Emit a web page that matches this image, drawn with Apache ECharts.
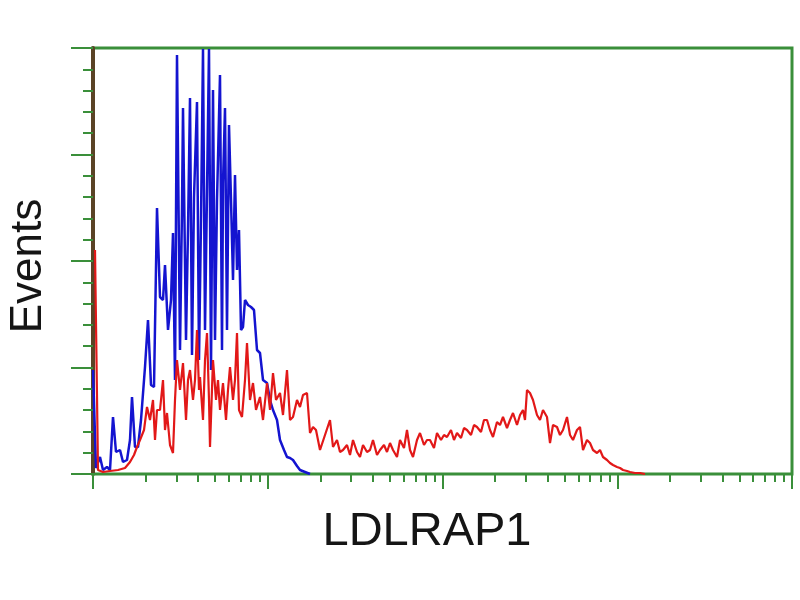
<!DOCTYPE html>
<html>
<head>
<meta charset="utf-8">
<script src="https://cdn.jsdelivr.net/npm/echarts@6/dist/echarts.min.js"></script>
<style>html,body{margin:0;padding:0;background:#fff;}#c{width:800px;height:600px;}</style>
</head>
<body>
<div id="c"></div>
<script>
// Channel (log scale, 4 decades over 0..699) vs event counts
const xTitle = 'LDLRAP1';
const yTitle = 'Events';
const decades = 4;
const channelMax = 699;
const countMax = 426;

const isotypeControl = [[0,104],[3,6],[7,17],[10,4],[14,7],[17,4],[20,57],[23,22],[27,24],[30,12],[34,14],[37,34],[39,77],[42,27],[45,27],[48,54],[52,107],[55,154],[58,89],[61,87],[64,266],[67,177],[70,174],[72,209],[75,144],[78,174],[80,241],[82,94],[84,419],[87,124],[89,266],[90,366],[93,134],[95,244],[97,376],[99,119],[101,277],[104,372],[106,114],[108,254],[110,425],[112,144],[114,282],[116,425],[118,104],[120,384],[122,134],[124,274],[127,399],[129,124],[130,291],[132,366],[134,144],[136,349],[138,274],[140,194],[142,299],[144,204],[146,244],[148,144],[150,147],[152,174],[155,169],[158,167],[161,164],[164,124],[167,121],[170,94],[174,91],[177,74],[180,64],[184,54],[187,34],[191,24],[194,17],[197,16],[200,14],[204,8],[207,4],[212,2],[217,0]];

const ldlrap1 = [[2,224],[5,4],[10,2],[17,3],[25,4],[32,6],[37,12],[41,19],[44,27],[47,34],[51,44],[54,67],[57,54],[60,74],[62,34],[64,64],[67,64],[70,94],[72,44],[74,61],[77,29],[80,21],[82,74],[84,114],[87,84],[90,111],[93,54],[95,94],[97,104],[100,74],[102,94],[104,144],[106,84],[107,97],[110,54],[112,114],[114,141],[116,74],[117,27],[120,114],[123,74],[125,94],[127,64],[130,91],[133,54],[135,84],[137,107],[140,74],[142,94],[144,141],[146,64],[149,57],[152,94],[154,131],[157,74],[160,91],[163,64],[167,77],[170,54],[174,91],[177,64],[180,101],[183,74],[187,81],[190,59],[194,104],[197,54],[200,57],[204,74],[207,67],[210,79],[214,81],[217,41],[220,47],[223,44],[227,24],[232,39],[237,54],[240,27],[244,34],[247,22],[250,24],[254,29],[257,19],[260,34],[264,22],[267,17],[270,29],[274,22],[277,24],[280,34],[284,19],[287,24],[291,29],[294,22],[297,31],[300,24],[304,17],[307,34],[311,26],[314,44],[317,24],[320,17],[324,34],[327,41],[331,29],[334,34],[337,34],[341,26],[344,41],[348,34],[351,39],[354,37],[358,44],[361,34],[364,41],[368,36],[371,46],[374,44],[378,39],[381,49],[384,47],[388,42],[391,54],[394,54],[397,44],[400,37],[404,52],[407,49],[410,57],[414,46],[417,54],[420,61],[424,49],[427,59],[430,64],[432,54],[434,84],[437,81],[440,74],[444,59],[447,54],[450,64],[454,57],[457,31],[460,49],[464,47],[467,39],[470,44],[474,57],[477,39],[480,34],[484,44],[487,47],[490,24],[494,34],[497,31],[500,24],[504,21],[507,24],[510,17],[514,14],[517,11],[520,9],[524,7],[527,6],[530,4],[534,3],[537,2],[542,1],[547,1],[552,0]];

const decadeLen = channelMax / decades;
const majorTicks = [];
const minorTicks = [];
for (let d = 0; d <= decades; d++) {
  majorTicks.push(d * decadeLen);
  if (d < decades) for (let k = 2; k <= 9; k++) minorTicks.push(d * decadeLen + Math.log10(k) * decadeLen);
}
const green = '#3a8f3a';
const chart = echarts.init(document.getElementById('c'), null, {renderer: 'canvas'});
chart.setOption({
  animation: false,
  backgroundColor: '#ffffff',
  grid: {left: 93, right: 8, top: 48, bottom: 126, show: true, borderColor: green, borderWidth: 3, backgroundColor: 'transparent'},
  xAxis: [
    {type: 'value', min: 0, max: channelMax, position: 'bottom',
     axisLine: {show: true, lineStyle: {color: green, width: 2}},
     axisTick: {show: true, customValues: majorTicks, length: 15, lineStyle: {color: green, width: 2}},
     axisLabel: {show: false}, splitLine: {show: false}},
    {type: 'value', min: 0, max: channelMax, position: 'bottom', gridIndex: 0,
     axisLine: {show: false},
     axisTick: {show: true, customValues: minorTicks, length: 8, lineStyle: {color: green, width: 2}},
     axisLabel: {show: false}, splitLine: {show: false}}
  ],
  yAxis: {type: 'value', min: 0, max: countMax, interval: countMax / 4,
    axisLine: {show: true, lineStyle: {color: '#5a4326', width: 4}},
    axisTick: {show: true, length: 22, lineStyle: {color: green, width: 2}},
    minorTick: {show: true, splitNumber: 5, length: 10, lineStyle: {color: green, width: 2}},
    axisLabel: {show: false}, splitLine: {show: false}, minorSplitLine: {show: false}},
  series: [
    {type: 'line', data: isotypeControl, showSymbol: false, lineStyle: {color: '#1414d0', width: 2.5}, z: 3},
    {type: 'line', data: ldlrap1, showSymbol: false, lineStyle: {color: '#e21818', width: 2.2}, z: 4}
  ],
  graphic: [
    {type: 'text', x: 29, y: 266, rotation: Math.PI / 2,
     style: {text: yTitle, fill: '#151515', font: '44px "Liberation Sans", Arial, sans-serif', align: 'center', verticalAlign: 'middle'}},
    {type: 'text', x: 427, y: 532,
     style: {text: xTitle, fill: '#151515', font: '47px "Liberation Sans", Arial, sans-serif', align: 'center', verticalAlign: 'middle'}}
  ]
});
</script>
</body>
</html>
